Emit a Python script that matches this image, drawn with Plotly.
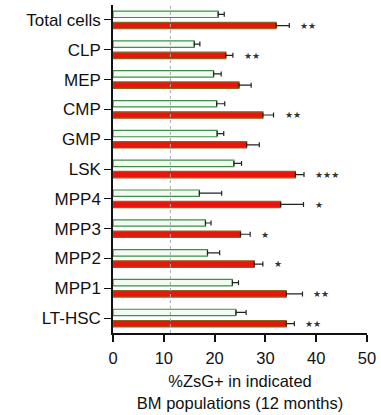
import plotly.graph_objects as go

# Bone-marrow populations, listed top to bottom
populations = ["Total cells", "CLP", "MEP", "CMP", "GMP", "LSK",
               "MPP4", "MPP3", "MPP2", "MPP1", "LT-HSC"]

# Mean %ZsG+ and upper error bound for each group
control_mean = [20.7, 16.0, 19.8, 20.4, 20.5, 23.8, 17.0, 18.2, 18.6, 23.5, 24.2]
control_upper = [21.9, 17.1, 21.3, 22.0, 21.8, 25.3, 21.4, 19.3, 21.0, 24.7, 26.2]
treated_mean = [32.1, 22.2, 24.8, 29.5, 26.3, 35.9, 33.0, 25.1, 27.8, 34.1, 34.1]
treated_upper = [34.7, 23.6, 27.2, 31.6, 28.8, 37.6, 37.5, 27.0, 29.5, 37.3, 35.7]

# Significance marks for the treated group
significance = ["★★", "★★", "", "★★", "", "★★★", "★", "★", "★", "★★", "★★"]

# Reference level (dotted line)
reference_level = 11.3

x_ticks = [0, 10, 20, 30, 40, 50]

font_family = "Liberation Sans, Arial, sans-serif"

fig = go.Figure()

fig.add_trace(go.Bar(
    y=populations, x=control_mean, orientation="h",
    marker=dict(color="#f1fbf1", line=dict(color="#3f8f4a", width=1.2)),
    error_x=dict(type="data", symmetric=False,
                 array=[u - m for u, m in zip(control_upper, control_mean)],
                 arrayminus=[0] * len(populations),
                 color="#222222", thickness=1.2, width=2.5),
    showlegend=False,
))

fig.add_trace(go.Bar(
    y=populations, x=treated_mean, orientation="h",
    marker=dict(color="#e8140e", line=dict(color="#8a6418", width=1.2)),
    error_x=dict(type="data", symmetric=False,
                 array=[u - m for u, m in zip(treated_upper, treated_mean)],
                 arrayminus=[0] * len(populations),
                 color="#222222", thickness=1.2, width=2.5),
    showlegend=False,
))

for pop, upper, mark in zip(populations, treated_upper, significance):
    if mark:
        fig.add_annotation(
            x=upper, y=pop, xref="x", yref="y",
            text=mark, showarrow=False, xanchor="left", yanchor="middle",
            xshift=9, yshift=-6,
            font=dict(family="DejaVu Sans, sans-serif", size=9, color="#333333"),
        )

fig.add_shape(
    type="line", x0=reference_level, x1=reference_level, y0=0, y1=1,
    xref="x", yref="paper",
    line=dict(color="#aaaaaa", width=1, dash="dot"), layer="above",
)

fig.update_layout(
    width=381, height=415,
    margin=dict(l=113, r=14, t=5, b=76),
    paper_bgcolor="white", plot_bgcolor="white",
    barmode="group", bargap=0.246, bargroupgap=0.43,
    font=dict(family=font_family, size=16.5, color="#111111"),
)

fig.update_xaxes(
    range=[0, 50], tickvals=x_ticks, ticktext=[str(t) for t in x_ticks],
    showline=True, linecolor="#111111", linewidth=1.5,
    ticks="outside", ticklen=7, tickwidth=1.5, tickcolor="#111111",
    showgrid=False, zeroline=False,
    tickfont=dict(size=16.5), ticklabelstandoff=2,
    title=dict(text="%ZsG+ in indicated<br>BM populations (12 months)",
               font=dict(size=16.5), standoff=10),
)

fig.update_yaxes(
    categoryorder="array", categoryarray=populations, autorange="reversed",
    showline=True, linecolor="#111111", linewidth=1.5,
    ticks="outside", ticklen=7, tickwidth=1.2, tickcolor="#111111",
    showgrid=False, zeroline=False,
    tickfont=dict(size=17),
)

fig.write_html("out.html")
